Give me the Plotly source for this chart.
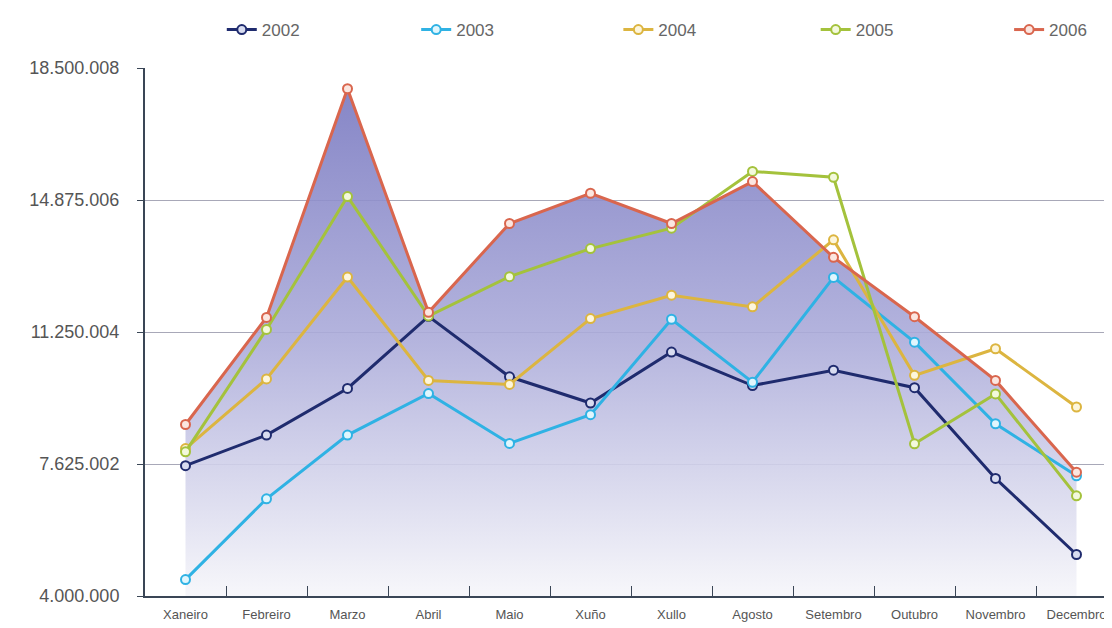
import plotly.graph_objects as go

months = ["Xaneiro", "Febreiro", "Marzo", "Abril", "Maio", "Xuño", "Xullo",
          "Agosto", "Setembro", "Outubro", "Novembro", "Decembro"]

y2002 = [7580000, 8420000, 9700000, 11680000, 10020000, 9300000, 10700000,
         9780000, 10200000, 9720000, 7230000, 5140000]
y2003 = [4450000, 6670000, 8420000, 9560000, 8190000, 8980000, 11600000,
         9870000, 12750000, 10970000, 8730000, 7300000]
y2004 = [8050000, 9960000, 12760000, 9920000, 9810000, 11620000, 12260000,
         11940000, 13780000, 10060000, 10790000, 9190000]
y2005 = [7960000, 11320000, 14970000, 11690000, 12770000, 13540000, 14100000,
         15660000, 15500000, 8180000, 9550000, 6750000]
y2006 = [8710000, 11650000, 17930000, 11790000, 14230000, 15060000, 14230000,
         15380000, 13300000, 11670000, 9920000, 7400000]

tick_vals = [4000000, 7625002, 11250004, 14875006, 18500008]
tick_text = ["4.000.000", "7.625.002", "11.250.004", "14.875.006", "18.500.008"]

series = [
    ("2002", y2002, "#1f2b6e", "#d8dcf0"),
    ("2003", y2003, "#2fb2e4", "#e0f6fd"),
    ("2004", y2004, "#dcb540", "#fdf6dc"),
    ("2005", y2005, "#a4c23c", "#f3f9dc"),
    ("2006", y2006, "#d9664e", "#fbe6e0"),
]
legend_x = [0.079, 0.279, 0.487, 0.690, 0.889]

fig = go.Figure()

# gradient area under 2006
fig.add_trace(go.Scatter(
    x=months, y=y2006, mode="none", fill="tozeroy", showlegend=False,
    hoverinfo="skip",
    fillgradient=dict(type="vertical", start=4000000, stop=18000000,
                      colorscale=[[0, "rgba(246,246,250,0.9)"],
                                  [0.5, "rgba(172,172,218,0.9)"],
                                  [1, "rgba(120,120,192,0.9)"]]),
))

legend_layout = {}
for i, (name, ys, col, mcol) in enumerate(series):
    lg = "legend" if i == 0 else f"legend{i + 1}"
    fig.add_trace(go.Scatter(
        x=months, y=ys, name=name, mode="lines+markers", legend=lg,
        line=dict(color=col, width=3),
        marker=dict(size=9, color=mcol, line=dict(color=col, width=2)),
    ))
    legend_layout[lg] = dict(
        orientation="h", x=legend_x[i], xanchor="left",
        y=1 - 22 / 628, yanchor="middle", yref="container",
        font=dict(size=17, color="#666666"), bgcolor="rgba(0,0,0,0)",
    )

fig.update_layout(
    width=1112, height=628,
    margin=dict(l=137, r=3, t=60, b=40, autoexpand=False),
    paper_bgcolor="white", plot_bgcolor="white",
    font=dict(family="Liberation Sans, Arial, sans-serif", color="#555555", size=12),
    showlegend=True,
    **legend_layout,
)

fig.update_xaxes(
    type="category", range=[-0.5, 11.5], tickson="boundaries",
    ticks="inside", ticklen=10, tickcolor="#3a4656", tickwidth=1,
    showline=True, linecolor="#3a4656", linewidth=2, showgrid=False,
    ticklabelstandoff=5,
    tickfont=dict(size=13, color="#555555"),
)
fig.update_yaxes(
    range=[4000000, 18500008], tickvals=tick_vals, ticktext=tick_text,
    ticks="outside", ticklen=6, tickcolor="#3a4656",
    showline=True, linecolor="#3a4656", linewidth=2,
    showgrid=True, gridcolor="#a8a8b8", gridwidth=1, ticklabelstandoff=14,
    zeroline=False, tickfont=dict(size=18, color="#555555"),
)

fig.write_html("out.html")
